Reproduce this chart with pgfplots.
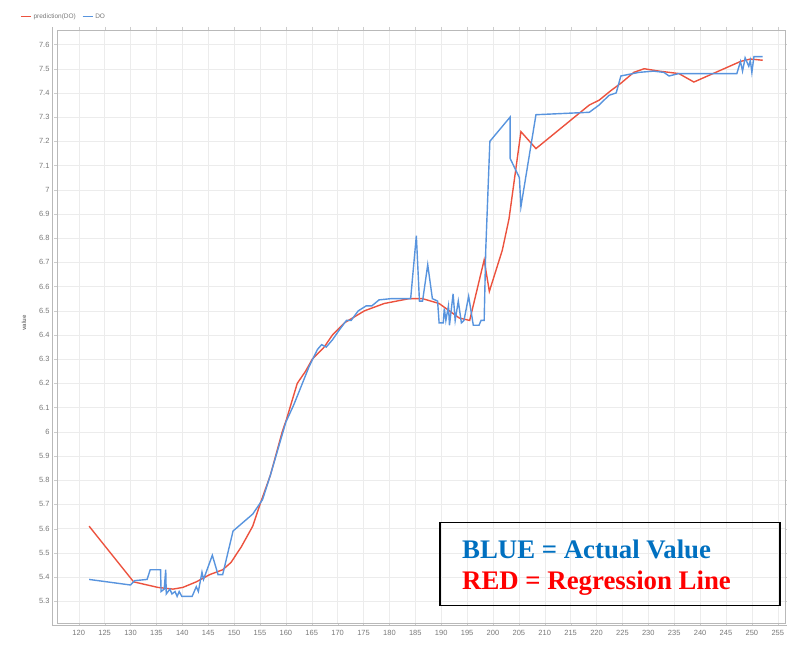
\documentclass[border=0pt]{standalone}
\usepackage{fontspec}
\setmainfont{Liberation Sans}
\newfontfamily\boxfont{Liberation Serif}
\usepackage{pgfplots}
\pgfplotsset{compat=1.18}

\definecolor{actual}{RGB}{88,148,222}
\definecolor{pred}{RGB}{236,82,62}
\definecolor{tlabel}{RGB}{120,120,120}
\definecolor{boxblue}{RGB}{0,112,192}
\definecolor{boxred}{RGB}{255,0,0}

\begin{document}
\begin{tikzpicture}
\path[use as bounding box] (0,0) rectangle (787pt,646pt);
\begin{axis}[
    at={(57pt,23pt)}, anchor=south west,
    scale only axis,
    width=728pt, height=593pt,
    xmin=115.8, xmax=256.4,
    ymin=5.21, ymax=7.66,
    xtick={120,125,...,255},
    ytick={5.3,5.4,5.5,5.6,5.7,5.8,5.9,6,6.1,6.2,6.3,6.4,6.5,6.6,6.7,6.8,6.9,7,7.1,7.2,7.3,7.4,7.5,7.6},
    grid=major,
    grid style={gray!15},
    axis line style={gray!55},
    tick style={gray!40},
    tick align=outside,
    major tick length=3pt,
    ticklabel style={font=\fontsize{7.5}{8}\selectfont, text=tlabel},
    /pgf/number format/assume math mode=true,
    yticklabel style={xshift=-1pt},
    xticklabel style={yshift=-1pt},
    legend style={at={(axis description cs:0,1)}, anchor=south west,
        xshift=-40pt, yshift=6pt, draw=none, fill=none,
        font=\fontsize{6.5}{7}\selectfont, text=tlabel,
        legend columns=2,
        /tikz/every even column/.append style={column sep=4pt}},
    legend image code/.code={\draw[#1] (0pt,0pt) -- (10pt,0pt);},
    legend cell align=left,
]
\addplot[pred, line width=1.4pt] coordinates {
(122.0,5.61) (130.6,5.38) (135.3,5.357) (138.2,5.35) (140.1,5.357)
(142.7,5.38) (145.3,5.41) (147.8,5.43) (149.4,5.46) (151.4,5.525)
(153.6,5.61) (155.0,5.70) (157.0,5.82) (159.3,6.0) (160.1,6.05)
(162.2,6.20) (163.8,6.25) (165.1,6.30) (167.4,6.35) (169.0,6.40)
(171.3,6.45) (175.2,6.50) (179.0,6.53) (183.8,6.55) (186.4,6.55)
(189.6,6.53) (193.5,6.47) (195.5,6.46) (198.3,6.71) (199.3,6.58)
(201.8,6.75) (203.1,6.88) (205.4,7.24) (208.3,7.17) (218.6,7.35)
(220.5,7.37) (222.8,7.41) (224.7,7.44) (227.2,7.485) (229.2,7.50)
(232.1,7.49) (235.9,7.48) (238.8,7.445) (247.8,7.53) (249.7,7.54)
(252.1,7.535)
};
\addlegendentry{prediction(DO)}
\addplot[actual, line width=1.4pt] coordinates {
(122.0,5.39) (130.0,5.367) (130.8,5.385) (133.2,5.39) (133.8,5.43)
(135.8,5.43) (135.9,5.34) (136.5,5.35) (136.8,5.43) (136.9,5.33)
(137.6,5.35) (138.0,5.33) (138.6,5.34) (139.0,5.32) (139.4,5.34)
(139.9,5.32) (141.9,5.32) (142.7,5.36) (143.1,5.34) (143.8,5.42)
(144.1,5.39) (145.8,5.49) (146.9,5.41) (147.8,5.41) (149.8,5.59)
(153.6,5.66) (155.5,5.72) (157.0,5.82) (158.5,5.93) (160.0,6.04)
(161.5,6.11) (163.0,6.19) (164.5,6.27) (166.1,6.34) (166.9,6.36)
(167.8,6.35) (169.0,6.38) (170.3,6.42) (171.7,6.46) (172.6,6.46)
(174.0,6.50) (175.5,6.52) (176.6,6.52) (178.0,6.545) (180.3,6.55)
(184.1,6.55) (185.2,6.81) (185.8,6.54) (186.4,6.54) (187.4,6.69)
(188.3,6.55) (189.3,6.54) (189.6,6.45) (190.4,6.45) (190.6,6.51)
(190.9,6.46) (191.4,6.52) (191.6,6.44) (192.3,6.57) (192.7,6.46)
(193.3,6.54) (193.9,6.45) (194.4,6.46) (195.3,6.56) (196.2,6.44)
(197.3,6.44) (197.7,6.46) (198.3,6.46) (198.6,6.75) (199.4,7.20)
(203.3,7.30) (203.3,7.13) (205.1,7.05) (205.4,6.93) (208.3,7.31)
(218.6,7.32) (220.5,7.35) (222.4,7.39) (223.8,7.40) (224.7,7.47)
(228.2,7.485) (231.0,7.49) (233.0,7.485) (234.0,7.47) (235.9,7.48)
(247.1,7.48) (247.8,7.53) (248.2,7.49) (248.7,7.545) (249.4,7.51)
(249.7,7.535) (250.0,7.485) (250.4,7.55) (252.1,7.55)
};
\addlegendentry{DO}
\end{axis}
% outer frame lines of the plot panel
\draw[gray!55] (52pt,21pt) -- (52pt,619pt);
\draw[gray!55] (52pt,21pt) -- (787pt,21pt);
% axis title
\node[rotate=90, font=\fontsize{6}{7}\selectfont\bfseries, text=tlabel] at (24pt,323pt) {value};
% annotation box
\draw[black, line width=1.6pt] (440pt,40.5pt) rectangle (780pt,123.5pt);
\node[anchor=base west, inner sep=0pt, font=\boxfont\bfseries\fontsize{26.8}{29}\selectfont, text=boxblue] at (462pt,88pt) {BLUE = Actual Value};
\node[anchor=base west, inner sep=0pt, font=\boxfont\bfseries\fontsize{26.8}{29}\selectfont, text=boxred] at (462pt,57pt) {RED = Regression Line};
\end{tikzpicture}
\end{document}
